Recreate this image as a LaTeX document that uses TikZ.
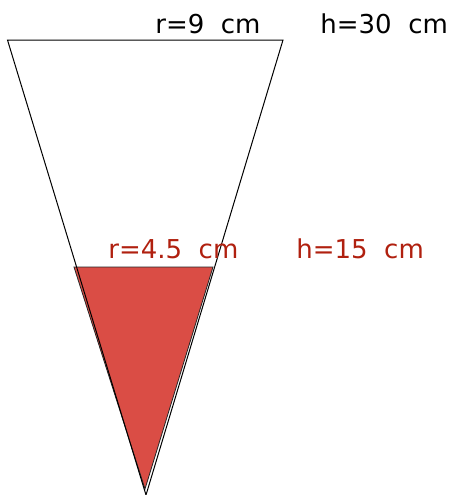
\documentclass[tikz,border=0pt]{standalone}
\usepackage{fontspec}
\setmainfont{DejaVu Sans}
\usepackage{tikz}

\definecolor{waterred}{HTML}{DA4D45}
\definecolor{labelred}{HTML}{B0200F}

\begin{document}
\begin{tikzpicture}[x=0.5pt, y=-0.5pt,
    measure/.style={anchor=base west, inner sep=0pt, font=\fontsize{13}{15}\selectfont},
    liquid/.style={fill=waterred, draw=black!85, line width=0.4pt}]
            \useasboundingbox (0,0) rectangle (453,495);

            % Cone corners
            \coordinate (topleft) at (7.5,40);
            \coordinate (topright) at (283,40);
            \coordinate (apex) at (146,495);

            % Liquid inside the cone
            \coordinate (waterleft) at (74,267);
            \coordinate (waterright) at (213,267);
            \coordinate (waterapex) at (145,489);
            \path[liquid] (waterleft) -- (waterright) -- (waterapex) -- cycle;

            % Cone outline
            \draw[line width=0.5pt] (topleft) -- (topright) -- (apex) -- cycle;

            % Labels of the full cone
            \node[measure] (rbig) at (155,33) {r=9\ \ cm};
            \node[measure] (hbig) at (320,33) {h=30\ \ cm};

            % Labels of the liquid
            \node[measure, labelred] (rsmall) at (108,258) {r=4.5\ \ cm};
            \node[measure, labelred] (hsmall) at (296,258) {h=15\ \ cm};
        \end{tikzpicture}
\end{document}
